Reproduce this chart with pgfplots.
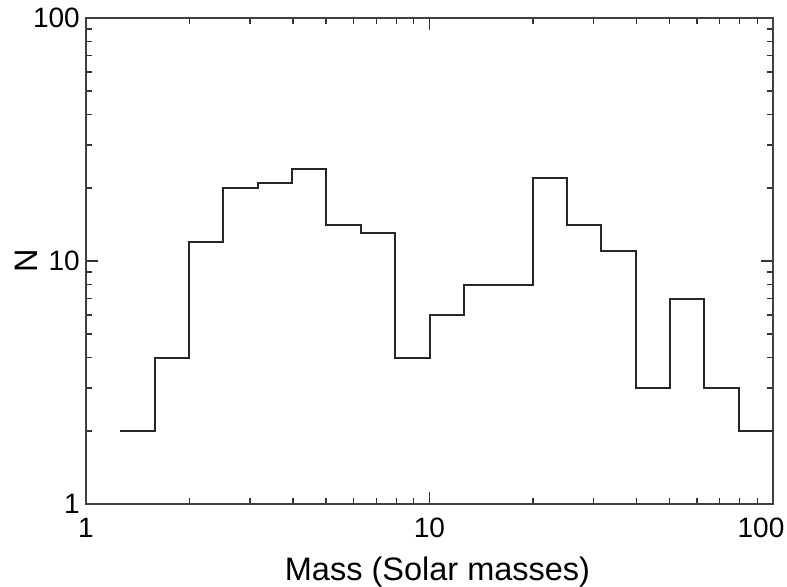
\documentclass[border=0pt]{standalone}
\usepackage{fontspec}
\setmainfont{Liberation Sans}
\usepackage{pgfplots}
\pgfplotsset{compat=1.18}
\begin{document}
\begin{tikzpicture}
\begin{axis}[
  name=ax,
  scale only axis,
  width=687bp, height=486bp,
  xmode=log, ymode=log,
  xmin=1, xmax=100, ymin=1, ymax=100,
  xtick={1,10,100}, ytick={1,10,100},
  xticklabels={{1},{10},{\makebox[0bp]{\hspace*{-24bp}100}}},
  yticklabels={1,10,100},
  /pgf/number format/assume math mode=true,
  font=\fontsize{28bp}{34bp}\selectfont,
  tick label style={font=\fontsize{28bp}{34bp}\selectfont, inner sep=0pt},
  xticklabel shift=14bp,
  yticklabel shift=6bp,
  axis line style={draw=black!75, line width=1.6bp},
  tick style={draw=black!80, line width=1.4bp},
  tick align=inside,
  major tick length=12bp, minor tick length=6bp,
  xlabel={Mass (Solar masses)},
  ylabel={N},
  xlabel style={font=\fontsize{32.5bp}{38bp}\selectfont, at={(axis description cs:0.5,0)}, anchor=base, yshift=-76bp, xshift=8bp, inner sep=0pt},
  ylabel style={font=\fontsize{32.5bp}{38bp}\selectfont, at={(axis description cs:0,0.5)}, anchor=center, yshift=60bp, inner sep=0pt},
  clip=true,
]
\addplot[const plot mark left, draw=black!85, line width=2bp, mark=none] coordinates {
(1.2589,2)
(1.5849,4)
(1.9953,12)
(2.5119,20)
(3.1623,21)
(3.9811,24)
(5.0119,14)
(6.3096,13)
(7.9433,4)
(10.000,6)
(12.589,8)
(15.849,8)
(19.953,22)
(25.119,14)
(31.623,11)
(39.811,3)
(50.119,7)
(63.096,3)
(79.433,2)
(100.00,2)
};
\end{axis}
\pgfresetboundingbox
\path ([shift={(-86bp,-83bp)}]ax.south west) rectangle ++(787bp,587bp);
\end{tikzpicture}
\end{document}
